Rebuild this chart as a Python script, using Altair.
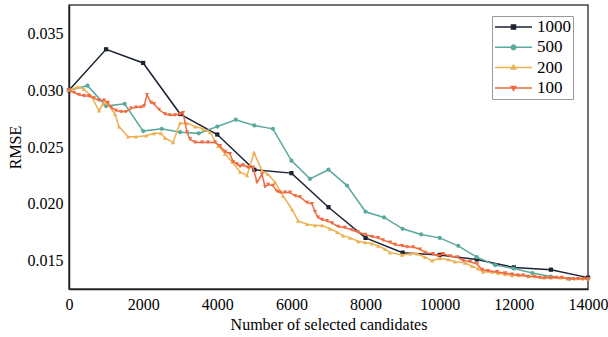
import altair as alt
import pandas as pd

series_names = ["1000", "500", "200", "100"]
colors = ["#1c2333", "#5aa99c", "#ecb050", "#f06a40"]
marker_shapes = ["square", "circle", "triangle-up", "triangle-down"]

x_1000 = [0, 1000, 2000, 3000, 4000, 5000, 6000, 7000, 8000, 9000, 10000, 11000, 12000, 13000, 14000]
y_1000 = [0.0300, 0.0336, 0.0324, 0.0279, 0.0261, 0.0230, 0.0227, 0.0197, 0.0170, 0.0157,
          0.0155, 0.0151, 0.0144, 0.0142, 0.0135]

x_500 = [0, 500, 1000, 1500, 2000, 2500, 3000, 3500, 4000, 4500, 5000, 5500, 6000, 6500, 7000,
         7500, 8000, 8500, 9000, 9500, 10000, 10500, 11000, 11500, 12000, 12500, 13000, 13500, 14000]
y_500 = [0.0300, 0.0304, 0.0286, 0.0288, 0.0264, 0.0266, 0.0263, 0.0262, 0.0268, 0.0274,
         0.0269, 0.0266, 0.0238, 0.0222, 0.0230, 0.0216, 0.0193, 0.0188, 0.0178, 0.0173,
         0.0170, 0.0163, 0.0153, 0.0146, 0.0143, 0.0139, 0.0136, 0.0134, 0.0134]

x_200 = [0, 243, 405, 594, 810, 917, 1025, 1241, 1349, 1592, 1808, 2077, 2293, 2482, 2590, 2806,
         2995, 3184, 3400, 3615, 3804, 4020, 4209, 4398, 4614, 4803, 4991, 5207, 5369, 5558,
         5774, 6017, 6179, 6422, 6637, 6826, 7042, 7231, 7393, 7582, 7798, 7986, 8175, 8337,
         8526, 8661, 8985, 9201, 9389, 9605, 9794, 10010, 10225, 10414, 10684, 10873, 11035,
         11170, 11413, 11575, 11763, 11950, 12150, 12384, 12600, 12800, 13000, 13247, 13450,
         13650, 13850, 14000]
y_200 = [0.0300, 0.0303, 0.0301, 0.0295, 0.0282, 0.0288, 0.0289, 0.0279, 0.0268, 0.0259, 0.0259,
         0.0260, 0.0262, 0.0262, 0.0258, 0.0254, 0.0271, 0.0271, 0.0268, 0.0266, 0.0263, 0.0251,
         0.0244, 0.0237, 0.0228, 0.0225, 0.0245, 0.0229, 0.0226, 0.0219, 0.0207, 0.0195, 0.0185,
         0.0182, 0.0181, 0.0181, 0.0178, 0.0175, 0.0172, 0.0170, 0.0167, 0.0166, 0.0165, 0.0163,
         0.0160, 0.0157, 0.0155, 0.0156, 0.0156, 0.0153, 0.0150, 0.0152, 0.0151, 0.0149, 0.0148,
         0.0145, 0.0143, 0.0140, 0.0140, 0.0139, 0.0138, 0.0137, 0.0137, 0.0136, 0.0136, 0.0135,
         0.0135, 0.0135, 0.0134, 0.0134, 0.0134, 0.0134]

x_100 = [0, 135, 270, 405, 540, 675, 810, 944, 1052, 1133, 1268, 1403, 1538, 1673, 1808, 1943,
         2024, 2104, 2212, 2293, 2428, 2590, 2725, 2860, 2995, 3076, 3184, 3265, 3400, 3588,
         3750, 3939, 4074, 4209, 4344, 4425, 4533, 4614, 4695, 4830, 4964, 5072, 5207, 5288,
         5369, 5504, 5612, 5693, 5828, 5963, 6098, 6232, 6421, 6556, 6637, 6718, 6826, 6961,
         7096, 7258, 7446, 7635, 7797, 7986, 8175, 8337, 8472, 8661, 8796, 8985, 9119, 9281,
         9470, 9605, 9821, 9956, 10091, 10279, 10468, 10630, 10819, 11008, 11143, 11305, 11548,
         11763, 11952, 12100, 12250, 12384, 12550, 12700, 12842, 13000, 13150, 13301, 13450,
         13600, 13733, 13870, 14000]
y_100 = [0.0300, 0.0298, 0.0296, 0.0295, 0.0295, 0.0293, 0.0291, 0.0291, 0.0289, 0.0285, 0.0282,
         0.0281, 0.0281, 0.0284, 0.0285, 0.0285, 0.0286, 0.0296, 0.0289, 0.0288, 0.0283, 0.0279,
         0.0278, 0.0278, 0.0279, 0.0280, 0.0263, 0.0257, 0.0254, 0.0254, 0.0254, 0.0254, 0.0251,
         0.0246, 0.0244, 0.0237, 0.0235, 0.0233, 0.0234, 0.0232, 0.0232, 0.0219, 0.0226, 0.0215,
         0.0217, 0.0216, 0.0211, 0.0210, 0.0210, 0.0210, 0.0207, 0.0206, 0.0201, 0.0200, 0.0193,
         0.0188, 0.0186, 0.0185, 0.0183, 0.0180, 0.0179, 0.0177, 0.0175, 0.0173, 0.0171, 0.0170,
         0.0168, 0.0166, 0.0164, 0.0163, 0.0162, 0.0162, 0.0160, 0.0157, 0.0156, 0.0154, 0.0156,
         0.0154, 0.0153, 0.0150, 0.0149, 0.0147, 0.0142, 0.0141, 0.0140, 0.0139, 0.0138, 0.0137,
         0.0137, 0.0136, 0.0136, 0.0135, 0.0135, 0.0135, 0.0135, 0.0135, 0.0134, 0.0134, 0.0134,
         0.0134, 0.0134]

x_ticks = [0, 2000, 4000, 6000, 8000, 10000, 12000, 14000]
y_ticks = [0.015, 0.020, 0.025, 0.030, 0.035]

# legend symbols: a line with the series marker in its middle
legend_paths = [
    "M-1,0H1M-0.11,-0.11H0.11V0.11H-0.11Z",
    "M-1,0H1M-0.12,0A0.12,0.12 0 1,0 0.12,0A0.12,0.12 0 1,0 -0.12,0Z",
    "M-1,0H1M0,-0.13L0.12,0.08L-0.12,0.08Z",
    "M-1,0H1M0,0.13L0.12,-0.08L-0.12,-0.08Z",
]

rows = []
for name, xs, ys in [("1000", x_1000, y_1000), ("500", x_500, y_500),
                     ("200", x_200, y_200), ("100", x_100, y_100)]:
    for xv, yv in zip(xs, ys):
        rows.append({"series": name, "x": xv, "y": yv})
df = pd.DataFrame(rows)

FONT = "Liberation Serif"

x_enc = alt.X("x:Q", scale=alt.Scale(domain=[0, 14000], nice=False),
              axis=alt.Axis(values=x_ticks, format="d", title="Number of selected candidates",
                            labelFlush=False, labelOverlap=False))
y_enc = alt.Y("y:Q", scale=alt.Scale(domain=[0.0125, 0.0375], nice=False, zero=False),
              axis=alt.Axis(values=y_ticks, format=".3f", title="RMSE",
                            labelFlush=False, labelOverlap=False))

base = alt.Chart(df)
layers = []
for name, col, shp in zip(series_names, colors, marker_shapes):
    sub = base.transform_filter(alt.datum.series == name)
    layers.append(sub.mark_line(color=col, strokeWidth=1.5).encode(x=x_enc, y=y_enc))
    layers.append(sub.mark_point(color=col, shape=shp, filled=True, size=18, opacity=1)
                  .encode(x=x_enc, y=y_enc))

color_scale = alt.Scale(domain=series_names, range=colors)
legend_layer = base.transform_filter(alt.datum.x < 0).mark_point(
    filled=True, opacity=1, strokeWidth=1.5
).encode(
    x=x_enc, y=y_enc,
    color=alt.Color("series:N", scale=color_scale, sort=series_names, title=None),
    stroke=alt.Stroke("series:N", scale=color_scale, sort=series_names, title=None),
    shape=alt.Shape("series:N", scale=alt.Scale(domain=series_names, range=legend_paths),
                    sort=series_names, title=None),
)
layers.append(legend_layer)

chart = alt.layer(*layers).properties(
    width=519, height=284,
    autosize=alt.AutoSizeParams(type="none"),
    padding={"left": 69, "top": 5, "right": 20, "bottom": 48},
).configure_view(
    stroke="#444444", strokeWidth=1.5
).configure_axis(
    grid=False, ticks=False, domainColor="#222222", domainWidth=1.5,
    labelFont=FONT, labelFontSize=16, labelColor="#000000",
    titleFont=FONT, titleFontSize=16, titleFontWeight="normal", titleColor="#000000",
).configure_axisX(
    labelPadding=7, titlePadding=4
).configure_axisY(
    labelPadding=6, titlePadding=4
).configure_legend(
    orient="none", legendX=423, legendY=11,
    padding=2, strokeColor="#999999", fillColor="#ffffff", cornerRadius=0,
    labelFont=FONT, labelFontSize=17, labelColor="#000000", labelOffset=4,
    symbolSize=1369, symbolStrokeWidth=1.5, clipHeight=18, rowPadding=2.3,
)

chart.save("out.html", embed_options={"renderer": "svg", "actions": False})
